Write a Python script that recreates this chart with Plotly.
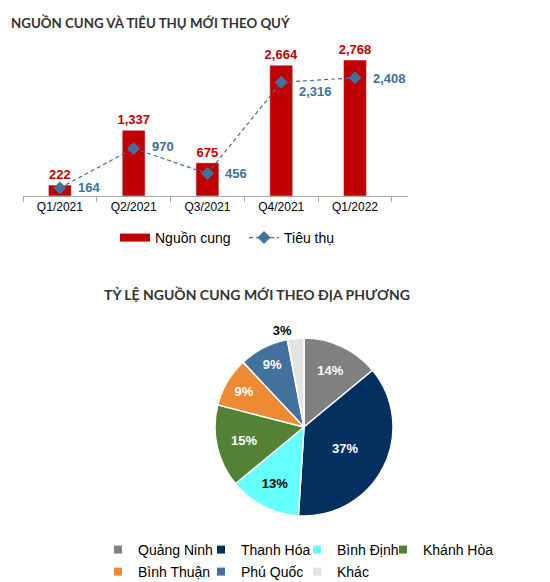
import plotly.graph_objects as go

# ---- data ----
quarters = ["Q1/2021", "Q2/2021", "Q3/2021", "Q4/2021", "Q1/2022"]
supply = [222, 1337, 675, 2664, 2768]
absorption = [164, 970, 456, 2316, 2408]

regions = ["Quảng Ninh", "Thanh Hóa", "Bình Định", "Khánh Hòa", "Bình Thuận", "Phú Quốc", "Khác"]
shares = [14, 37, 13, 15, 9, 9, 3]

RED = "#C00000"
BLUE = "#41719C"
FONT = "Liberation Sans"
TITLE_FONT = "Lato"

pie_colors = ["#808080", "#03305F", "#66FFFF", "#548235", "#ED8A33", "#41719C", "#E3E3E3"]
pie_text_colors = ["white", "white", "black", "white", "white", "white", "black"]
pie_text_pos = ["inside"] * 6 + ["outside"]

# layout helpers: page pixel -> paper fraction (page has an 8px body margin)
FIG_W, FIG_H = 550, 582
MR = 80
GW = FIG_W - MR
OFF = 8


def px(x):
    return (x - OFF) / GW


def py(y):
    return 1 - (y - OFF) / FIG_H


fig = go.Figure()

fig.add_trace(go.Bar(
    x=quarters, y=supply, name="Nguồn cung",
    marker=dict(color=RED), width=0.31,
    text=[f"{v:,}" for v in supply], textposition="outside", constraintext="none",
    textfont=dict(family=FONT, size=13, color=RED, weight="bold"),
    cliponaxis=False, showlegend=False,
))

# legend entry for the bars (wide rectangle look)
fig.add_trace(go.Scatter(
    x=[None], y=[None], name="Nguồn cung", mode="lines",
    line=dict(color=RED, width=8), legend="legend", hoverinfo="skip",
))

fig.add_trace(go.Scatter(
    x=quarters, y=absorption, name="Tiêu thụ", mode="lines+markers",
    line=dict(color=BLUE, width=1.2, dash="4px,3px"),
    marker=dict(symbol="diamond", size=10, color=BLUE),
    legend="legend", cliponaxis=False,
))

yshifts = [0, 2, 0, -9, -1]
for q, v, ys in zip(quarters, absorption, yshifts):
    fig.add_annotation(
        x=q, y=v, xref="x", yref="y", text=f"{v:,}", showarrow=False,
        xanchor="left", xshift=16, yshift=ys,
        font=dict(family=FONT, size=13, color=BLUE, weight="bold"),
    )

fig.add_trace(go.Pie(
    labels=regions, values=shares, sort=False, direction="clockwise", rotation=0,
    marker=dict(colors=pie_colors, line=dict(color="white", width=1.5)),
    texttemplate="%{value}%", textposition=pie_text_pos,
    insidetextorientation="horizontal",
    insidetextfont=dict(family=FONT, size=13, color=pie_text_colors, weight="bold"),
    outsidetextfont=dict(family=FONT, size=13, color="black", weight="bold"),
    domain=dict(x=[px(215), px(393)], y=[py(516), py(338)]),
    showlegend=False,
))

# pie legend: one small legend per region, laid out in the reference grid
col_x = [98, 201, 297, 383]
row_y = [534, 556]
legend_layouts = {}
for i, (name, col) in enumerate(zip(regions, pie_colors)):
    lid = f"legend{i + 2}"
    fig.add_trace(go.Scatter(
        x=[None], y=[None], name=name, mode="markers",
        marker=dict(symbol="square", size=8, color=col, line=dict(width=0)),
        legend=lid, hoverinfo="skip",
    ))
    legend_layouts[lid] = dict(
        x=px(col_x[i % 4]), y=py(row_y[i // 4]), xanchor="left", yanchor="top",
        orientation="h", font=dict(family=FONT, size=14, color="black"),
        bgcolor="rgba(0,0,0,0)", itemwidth=30,
    )

fig.add_annotation(
    text="NGUỒN CUNG VÀ TIÊU THỤ MỚI THEO QUÝ", xref="paper", yref="paper",
    x=px(9), y=py(22), xanchor="left", yanchor="middle", showarrow=False,
    font=dict(family=TITLE_FONT, size=13.3, color="#333333", weight="bold"),
)
fig.add_annotation(
    text="TỶ LỆ NGUỒN CUNG MỚI THEO ĐỊA PHƯƠNG", xref="paper", yref="paper",
    x=px(257), y=py(294), xanchor="center", yanchor="middle", showarrow=False,
    font=dict(family=TITLE_FONT, size=14, color="#333333", weight="bold"),
)

fig.update_layout(
    width=FIG_W, height=FIG_H, margin=dict(l=0, r=MR, t=0, b=0, autoexpand=False),
    paper_bgcolor="white", plot_bgcolor="white",
    font=dict(family=FONT, size=12, color="black"),
    xaxis=dict(type="category", categoryorder="array", categoryarray=quarters,
               domain=[px(23), px(408)], showgrid=False, zeroline=False,
               showline=True, linecolor="#A6A6A6", linewidth=1,
               ticks="outside", tickson="boundaries", ticklen=5, tickcolor="#A6A6A6",
               tickfont=dict(family=FONT, size=12, color="black")),
    yaxis=dict(domain=[py(196), py(34)], range=[0, 3300],
               visible=False, showgrid=False, zeroline=False),
    legend=dict(orientation="h", x=px(115), y=py(222), xanchor="left", yanchor="top",
                font=dict(family=FONT, size=14, color="black"), bgcolor="rgba(0,0,0,0)",
                itemwidth=30, entrywidth=84),
    showlegend=True,
    **legend_layouts,
)

fig.write_html("out.html")
